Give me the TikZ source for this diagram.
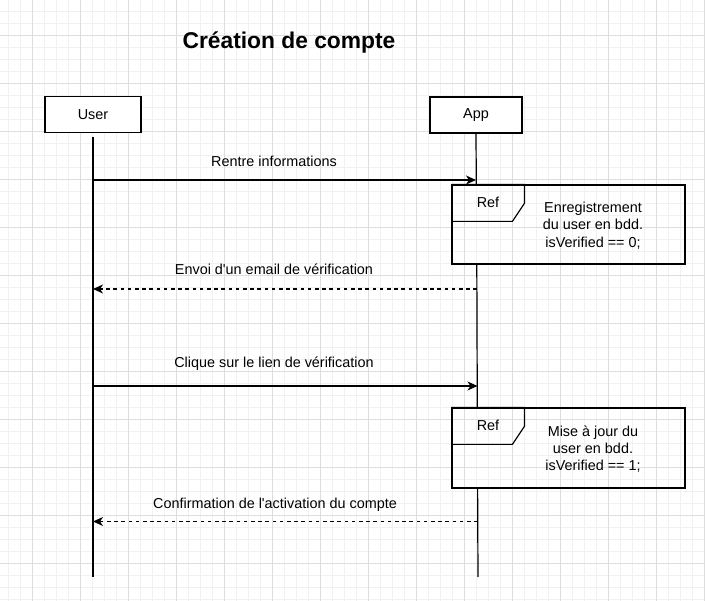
\documentclass[tikz,border=0pt]{standalone}
\usepackage{fontspec}
\setmainfont{Liberation Sans}[Ligatures=TeXOff]
\usetikzlibrary{arrows.meta}
\definecolor{gridminor}{HTML}{F1F1F1}
\definecolor{gridmajor}{HTML}{DDDDDD}
\begin{document}
\begin{tikzpicture}[x=1pt,y=-1pt,
  lbl/.style={font=\fontsize{14.4}{17.3}\selectfont, inner sep=0pt, align=center},
  actor/.style={draw, line width=1.2pt, fill=white, minimum height=36pt, inner sep=0pt, font=\fontsize{14.4}{17.3}\selectfont},
  life/.style={line width=1.2pt},
  msg/.style={line width=1.2pt, -{Stealth[length=10pt,width=9pt,inset=3pt]}},
  reply/.style={msg, dash pattern=on 3.6pt off 3.6pt},
  refbox/.style={draw, line width=1.2pt, minimum width=233pt, minimum height=79pt, inner sep=0pt},
]
\useasboundingbox (0,0) rectangle (705,601);
\fill[white] (0,0) rectangle (705,601);
\foreach \x in {8,20,...,704} \draw[gridminor, line width=1pt] (\x,0) -- (\x,601);
\foreach \y in {0,12,...,600} \draw[gridminor, line width=1pt] (0,\y) -- (705,\y);
\foreach \x in {32,80,...,704} \draw[gridmajor, line width=1pt] (\x,0) -- (\x,601);
\foreach \y in {36,84,...,564} \draw[gridmajor, line width=1pt] (0,\y) -- (705,\y);

\node[font=\bfseries\fontsize{22.8}{27}\selectfont, inner sep=0pt] (title) at (289,43) {Création de compte};

\node[actor, minimum width=96pt] (user) at (93,114.5) {User};
\node[actor, minimum width=92pt] (app) at (476,115) {App};

\node[refbox] (ref1) at (568.5,224.5) {};
\node[refbox, minimum height=80pt] (ref2) at (568.5,448) {};

% lifelines
\coordinate (ustart) at (93,137);
\coordinate (uend) at (93,577);
\draw[life] (ustart) -- (uend);
\coordinate (a1top) at (476.3,185);
\coordinate (a1bot) at (476.8,264);
\coordinate (a2top) at (477.3,408);
\coordinate (a2bot) at (477.6,488);
\coordinate (aend) at (478,577);
\draw[life] (app.south) -- (a1top);
\draw[life] (a1bot) -- (a2top);
\draw[life] (a2bot) -- (aend);

% ref frames
\draw[life] (ref1.north west) -- ++(73,0) -- ++(0,19) -- ++(-12,18) -- ++(-61,0);
\node[lbl] (ref1tab) at (488,202) {Ref};
\node[lbl] (ref1txt) at (593,225.5) {Enregistrement\\du user en bdd.\\isVerified == 0;};
\draw[life] (ref2.north west) -- ++(73,0) -- ++(0,19) -- ++(-12,18) -- ++(-61,0);
\node[lbl] (ref2tab) at (488,425) {Ref};
\node[lbl] (ref2txt) at (593,449) {Mise à jour du\\user en bdd.\\isVerified == 1;};

% messages
\coordinate (m1u) at (93,180); \coordinate (m1a) at (476,180);
\draw[msg] (m1u) -- (m1a);
\node[lbl] (m1l) at (274,161) {Rentre informations};

\coordinate (m2u) at (93,289); \coordinate (m2a) at (477,289);
\draw[reply] (m2a) -- (m2u);
\node[lbl] (m2l) at (274,269) {Envoi d'un email de vérification};

\coordinate (m3u) at (93,386); \coordinate (m3a) at (477.5,386);
\draw[msg] (m3u) -- (m3a);
\node[lbl] (m3l) at (274,364) {Clique sur le lien de vérification};

\coordinate (m4u) at (93,521.5); \coordinate (m4a) at (477.7,521.5);
\draw[reply] (m4a) -- (m4u);
\node[lbl] (m4l) at (275,505) {Confirmation de l'activation du compte};
\end{tikzpicture}
\end{document}
